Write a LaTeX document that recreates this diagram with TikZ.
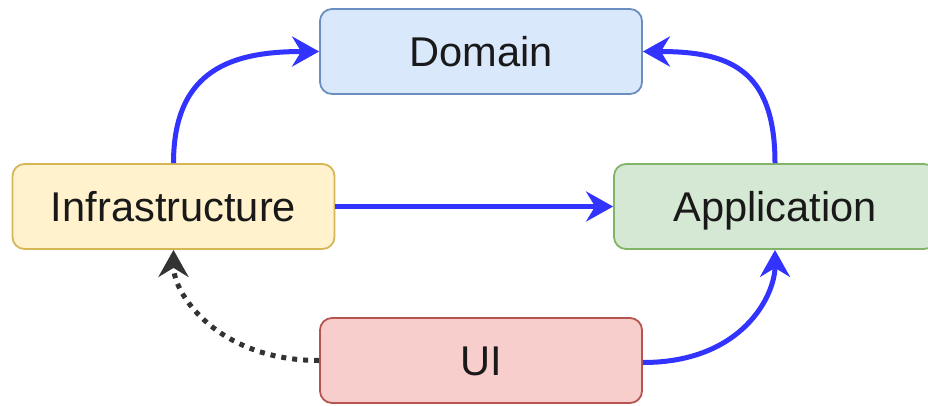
\documentclass[tikz,border=0pt]{standalone}
\usepackage{fontspec}
\setmainfont{Liberation Sans}
\usetikzlibrary{arrows.meta,calc}
\definecolor{dfill}{HTML}{DAE8FC}\definecolor{dline}{HTML}{6C8EBF}
\definecolor{ifill}{HTML}{FFF2CC}\definecolor{iline}{HTML}{D6B656}
\definecolor{afill}{HTML}{D5E8D4}\definecolor{aline}{HTML}{82B366}
\definecolor{ufill}{HTML}{F8CECC}\definecolor{uline}{HTML}{B85450}
\definecolor{edgeblue}{HTML}{3333FF}
\definecolor{edgegray}{HTML}{333333}
\begin{document}
\begin{tikzpicture}[x=1pt,y=-1pt,
  box/.style={draw, line width=1.8pt, rounded corners=12pt, inner sep=0pt,
    minimum height=85pt, minimum width=322pt, text height=29.8pt, text depth=0pt,
    font=\fontsize{41.6}{50}\selectfont, text=black!90},
  dep/.style={draw=edgeblue, line width=5pt,
    -{Stealth[length=27pt,width=30pt,inset=9pt]}},
  weak/.style={draw=edgegray, line width=5pt, dash pattern=on 5pt off 6pt,
    -{Stealth[length=27pt,width=30pt,inset=9pt]}}]
\useasboundingbox (0,0) rectangle (928,405);
\node[box, fill=dfill, draw=dline] (dom) at (481,51.5) {Domain};
\node[box, fill=ifill, draw=iline] (inf) at (173.5,206.5) {Infrastructure};
\node[box, fill=afill, draw=aline] (app) at (775,206.5) {Application};
\node[box, fill=ufill, draw=uline] (ui) at (481,360.5) {UI};
\draw[dep] (inf.north) .. controls ($(inf.north)+(0,-95)$) and ($(dom.west)+(-85,0)$) .. (dom.west);
\draw[dep] (app.north) .. controls ($(app.north)+(0,-95)$) and ($(dom.east)+(85,0)$) .. (dom.east);
\draw[dep] (inf.east) -- (app.west);
\draw[dep] ([yshift=-2pt]ui.east) .. controls ($([yshift=-2pt]ui.east)+(100,0)$) and ($(app.south)+(0,45)$) .. (app.south);
\draw[weak] (ui.west) .. controls ($(ui.west)+(-100,0)$) and ($(inf.south)+(0,45)$) .. (inf.south);
\end{tikzpicture}
\end{document}
